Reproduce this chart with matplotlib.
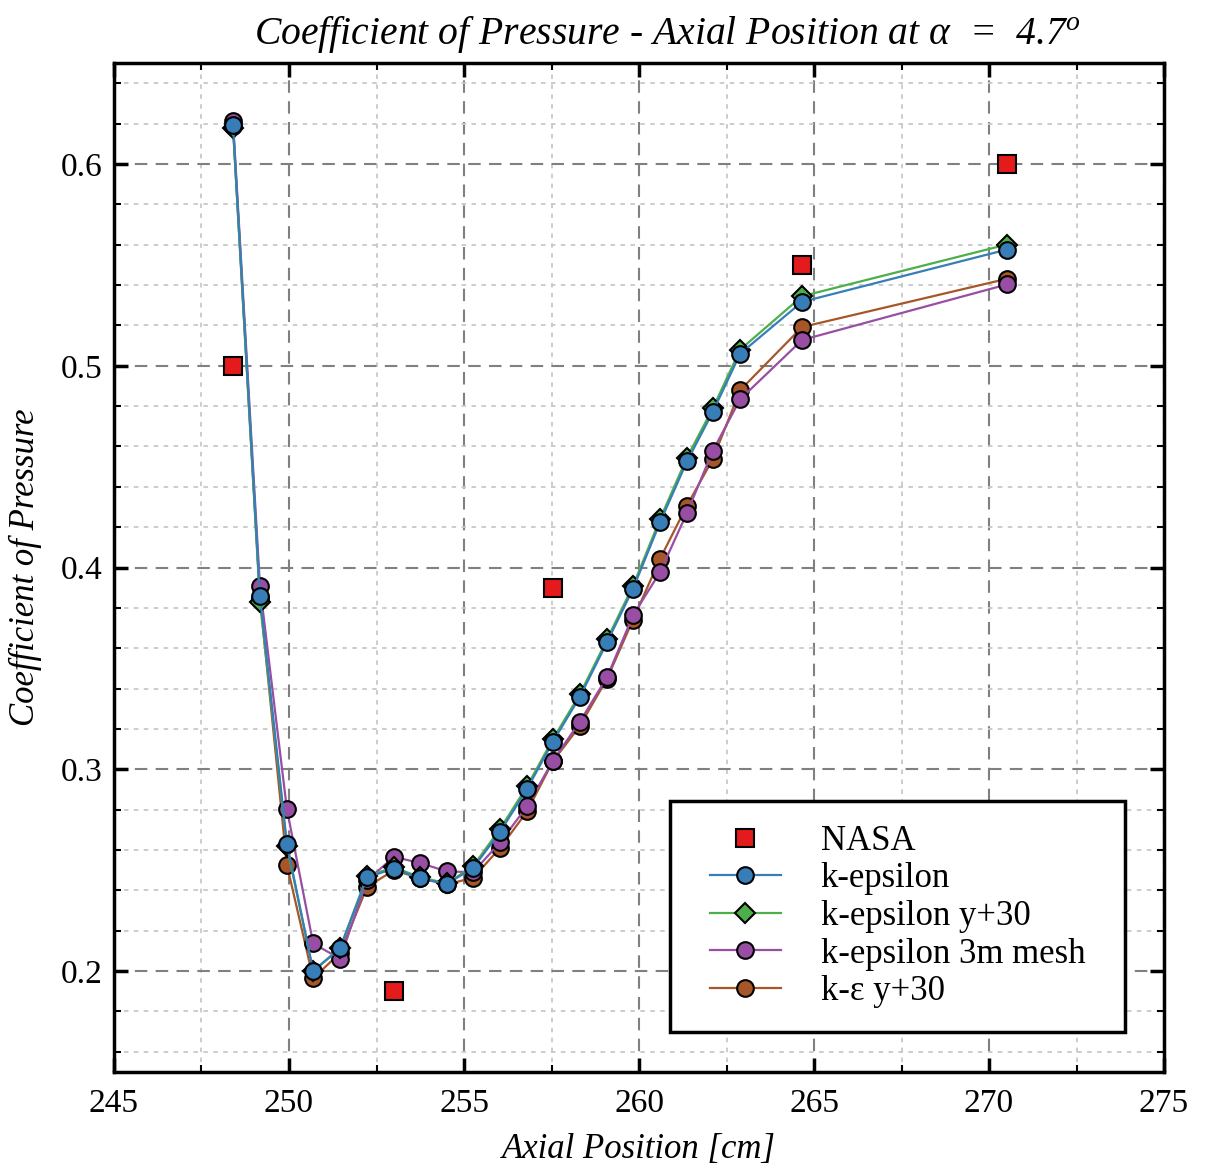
import matplotlib
matplotlib.use("Agg")
import matplotlib.pyplot as plt
from matplotlib.ticker import MultipleLocator
from matplotlib.patches import Rectangle

plt.rcParams['font.family'] = ['Liberation Serif', 'DejaVu Serif']
plt.rcParams['mathtext.fontset'] = 'custom'
plt.rcParams['mathtext.rm'] = 'Liberation Serif'
plt.rcParams['mathtext.it'] = 'Liberation Serif:italic'
plt.rcParams['mathtext.default'] = 'it'

# Data
nasa_x = [248.4, 253.0, 257.55, 264.65, 270.5]
nasa_y = [0.50, 0.19, 0.39, 0.55, 0.60]

cfd_x = [248.40, 249.17, 249.94, 250.69, 251.46, 252.23, 253.00, 253.74, 254.51,
         255.26, 256.03, 256.80, 257.54, 258.31, 259.09, 259.83, 260.60, 261.37,
         262.11, 262.89, 264.66, 270.51]

ke_y = [0.6195, 0.386, 0.2631, 0.200, 0.2112, 0.2465, 0.2508, 0.246, 0.2432,
        0.2511, 0.269, 0.2902, 0.3137, 0.3359, 0.3631, 0.3895, 0.4224, 0.4526,
        0.4772, 0.5060, 0.5317, 0.5576]

ke_y30_y = [0.618, 0.383, 0.262, 0.200, 0.2115, 0.247, 0.2515, 0.2465, 0.2435,
            0.252, 0.2705, 0.2915, 0.3150, 0.3372, 0.3645, 0.3910, 0.4240, 0.4545,
            0.4790, 0.5080, 0.5345, 0.5601]

ke_3m_y = [0.6215, 0.3908, 0.2803, 0.2137, 0.2061, 0.2450, 0.2566, 0.2536, 0.2494,
           0.2490, 0.2638, 0.2816, 0.3043, 0.3236, 0.3458, 0.3763, 0.3977, 0.4271,
           0.4579, 0.4834, 0.5128, 0.5403]

keps_y30_y = [0.619, 0.385, 0.2527, 0.1964, 0.209, 0.2417, 0.2500, 0.2460, 0.2430,
              0.2462, 0.2610, 0.2791, 0.3040, 0.3215, 0.3450, 0.3742, 0.4043, 0.4307,
              0.4538, 0.4879, 0.5192, 0.5431]

labels = ['NASA', 'k-epsilon', 'k-epsilon y+30', 'k-epsilon 3m mesh', 'k-\u03b5 y+30']
colors = ['#e41a1c', '#377eb8', '#4daf4a', '#984ea3', '#a65628']

fig = plt.figure(figsize=(12.05, 11.69), dpi=100)
ax = fig.add_axes([0.0946, 0.083, 0.8714, 0.863])

ms = 12
ax.plot(nasa_x, nasa_y, linestyle='none', marker='s', ms=13, mfc=colors[0],
        mec='black', mew=1.5, label=labels[0], zorder=6)
ax.plot(cfd_x, ke_y, '-', color=colors[1], lw=1.6, marker='o', ms=ms, mfc=colors[1],
        mec='black', mew=1.5, label=labels[1], zorder=5)
ax.plot(cfd_x, ke_y30_y, '-', color=colors[2], lw=1.6, marker='D', ms=ms-1.5, mfc=colors[2],
        mec='black', mew=1.5, label=labels[2], zorder=4)
ax.plot(cfd_x, ke_3m_y, '-', color=colors[3], lw=1.6, marker='o', ms=ms, mfc=colors[3],
        mec='black', mew=1.5, label=labels[3], zorder=3)
ax.plot(cfd_x, keps_y30_y, '-', color=colors[4], lw=1.6, marker='o', ms=ms, mfc=colors[4],
        mec='black', mew=1.5, label=labels[4], zorder=2)

ax.set_xlim(245, 275)
ax.set_ylim(0.15, 0.65)
ax.xaxis.set_major_locator(MultipleLocator(5))
ax.xaxis.set_minor_locator(MultipleLocator(2.5))
ax.yaxis.set_major_locator(MultipleLocator(0.1))
ax.yaxis.set_minor_locator(MultipleLocator(0.02))

ax.grid(which='major', color='#808080', linestyle=(0, (6, 4)), linewidth=1.5)
ax.grid(which='minor', color='#c8c8c8', linestyle=(0, (2.5, 3)), linewidth=1.3)
ax.set_axisbelow(True)

for s in ax.spines.values():
    s.set_linewidth(2.5)

ax.tick_params(which='both', direction='in', top=True, right=True, labelsize=24)
ax.tick_params(which='major', length=10, width=2.5)
ax.tick_params(which='minor', length=5, width=1.5)
ax.tick_params(axis='x', which='major', pad=12)
ax.tick_params(axis='y', which='major', pad=8)

ax.set_title('Coefficient of Pressure - Axial Position at \u03b1  =  4.7$^o$', fontsize=28.5,
             style='italic', pad=14, x=0.527)
ax.set_xlabel('Axial Position [cm]', fontsize=25, style='italic', labelpad=10)
ax.set_ylabel('Coefficient of Pressure', fontsize=25, style='italic', labelpad=14)

# legend frame (layout box)
bx0, by0, bx1, by1 = 0.5295, 0.0396, 0.9629, 0.2686
frame = Rectangle((bx0, by0), bx1 - bx0, by1 - by0, transform=ax.transAxes,
                  facecolor='white', edgecolor='black', linewidth=2.5, zorder=9)
ax.add_patch(frame)
leg = ax.legend(loc='center', bbox_to_anchor=((bx0 + bx1) / 2, (by0 + by1) / 2),
                fontsize=25, frameon=False, borderpad=0.0, labelspacing=0.13,
                handlelength=2.05, handletextpad=1.15)
leg.set_zorder(10)

fig.savefig('out.png', dpi=100)
